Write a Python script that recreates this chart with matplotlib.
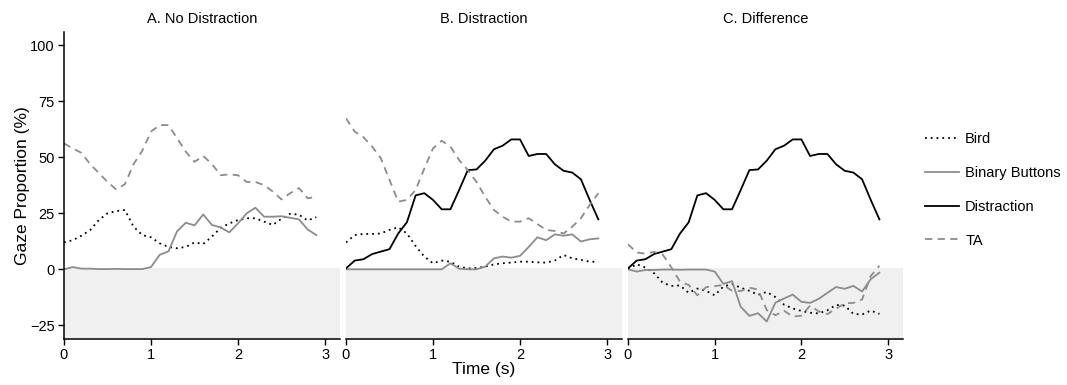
import numpy as np
import matplotlib
matplotlib.use("Agg")
import matplotlib.pyplot as plt

plt.rcParams["font.family"] = ["Liberation Sans", "DejaVu Sans"]

# ── Data (gaze proportion in %, sampled every 0.1 s) ───────────────────────
time_s = [0.0, 0.1, 0.2, 0.3, 0.4, 0.5, 0.6, 0.7, 0.8, 0.9,
          1.0, 1.1, 1.2, 1.3, 1.4, 1.5, 1.6, 1.7, 1.8, 1.9,
          2.0, 2.1, 2.2, 2.3, 2.4, 2.5, 2.6, 2.7, 2.8, 2.9]

# A. No Distraction
bird_a = [12.0, 13.0, 15.0, 17.5, 22.0, 25.0, 26.0, 26.5, 19.0, 15.3,
          14.3, 11.6, 10.0, 9.4, 10.0, 12.0, 11.3, 14.6, 18.5, 20.5,
          22.0, 22.8, 22.8, 21.3, 19.8, 22.6, 24.8, 24.4, 21.8, 23.3]
buttons_a = [0.0, 1.0, 0.3, 0.3, 0.1, 0.1, 0.2, 0.1, 0.1, 0.1,
             1.0, 6.5, 8.0, 17.0, 20.8, 19.6, 24.5, 19.8, 18.7, 16.5,
             20.5, 25.0, 27.5, 23.5, 23.5, 23.7, 23.0, 22.3, 17.8, 15.3]
ta_a = [56.2, 54.0, 52.0, 47.0, 43.0, 39.0, 35.7, 38.0, 47.0, 53.0,
        61.5, 64.4, 64.4, 58.5, 52.5, 48.0, 50.6, 47.0, 42.0, 42.4,
        42.0, 39.0, 39.0, 37.6, 34.7, 31.2, 34.0, 36.3, 31.7, 32.4]

# B. Distraction
bird_b = [12.0, 15.3, 15.8, 15.8, 16.0, 17.6, 18.8, 16.0, 10.4, 5.7,
          2.7, 3.9, 3.4, 1.2, 0.4, 0.6, 1.2, 2.2, 2.7, 3.0,
          3.4, 3.4, 3.1, 3.0, 3.9, 6.4, 4.9, 4.2, 3.4, 3.4]
buttons_b = [0.0, 0.0, 0.0, 0.0, 0.0, 0.0, 0.0, 0.0, 0.0, 0.0,
             0.0, 0.0, 2.7, 0.3, 0.0, 0.0, 1.2, 4.9, 5.7, 5.2,
             6.0, 10.0, 14.3, 13.0, 15.6, 15.0, 15.6, 12.4, 13.4, 13.8]
distraction_b = [0.4, 3.9, 4.5, 6.8, 7.9, 9.0, 16.0, 21.0, 33.0, 34.0,
                 31.0, 26.8, 26.8, 35.4, 44.3, 44.6, 48.5, 53.6, 55.2, 58.0,
                 58.0, 50.6, 51.5, 51.5, 46.9, 44.0, 43.2, 40.2, 31.0, 22.3]
ta_b = [67.4, 61.5, 59.0, 54.8, 49.6, 39.9, 30.2, 31.0, 35.4, 45.0,
        54.0, 57.4, 54.8, 48.8, 44.3, 39.0, 32.4, 26.5, 23.5, 21.3,
        21.3, 22.8, 20.2, 17.6, 17.1, 16.0, 19.0, 22.8, 28.7, 34.0]

# C. Difference (Distraction minus No Distraction)
bird_c = np.array(bird_b) - np.array(bird_a)
buttons_c = np.array(buttons_b) - np.array(buttons_a)
distraction_c = np.array(distraction_b)
ta_c = np.array(ta_b) - np.array(ta_a)

panel_titles = ["A. No Distraction", "B. Distraction", "C. Difference"]
series_names = ["Bird", "Binary Buttons", "Distraction", "TA"]

GRAY = "#8c8c8c"
STYLES = {
    "Bird": dict(color="black", linestyle=(0, (1, 2.2)), linewidth=1.3),
    "Binary Buttons": dict(color=GRAY, linestyle="-", linewidth=1.3),
    "Distraction": dict(color="black", linestyle="-", linewidth=1.3),
    "TA": dict(color=GRAY, linestyle=(0, (4, 3)), linewidth=1.3),
}

panels = [
    {"Bird": bird_a, "Binary Buttons": buttons_a, "TA": ta_a},
    {"Bird": bird_b, "Binary Buttons": buttons_b, "Distraction": distraction_b, "TA": ta_b},
    {"Bird": bird_c, "Binary Buttons": buttons_c, "Distraction": distraction_c, "TA": ta_c},
]

W, H = 1067, 385
fig = plt.figure(figsize=(W / 100, H / 100), dpi=100)

lefts = [64, 346, 628]
widths = [276, 276, 275]
top_px, bottom_px = 31.7, 339.3

axes = []
for i, (left, width) in enumerate(zip(lefts, widths)):
    ax = fig.add_axes([left / W, 1 - bottom_px / H, width / W, (bottom_px - top_px) / H])
    ax.axhspan(-40, 0.7, color="#f0f0f0", zorder=0, linewidth=0)
    for name in series_names:
        if name in panels[i]:
            ax.plot(time_s, panels[i][name], label=name, **STYLES[name])
    ax.set_xlim(0, 3.172)
    ax.set_ylim(-31.25, 106.1)
    ax.set_xticks([0, 1, 2, 3])
    ax.set_title(panel_titles[i], fontsize=10.5, pad=6)
    for side in ["top", "right"]:
        ax.spines[side].set_visible(False)
    ax.spines["bottom"].set_linewidth(1.1)
    ax.spines["left"].set_linewidth(1.1)
    ax.tick_params(length=4, width=1.0, labelsize=10.5, pad=2.5)
    if i == 0:
        ax.set_yticks([-25, 0, 25, 50, 75, 100])
        ax.set_ylabel("Gaze Proportion (%)", fontsize=12.5, labelpad=0.5)
    else:
        ax.spines["left"].set_visible(False)
        ax.set_yticks([])
    if i == 1:
        ax.set_xlabel("Time (s)", fontsize=12.5, labelpad=0)
    axes.append(ax)

handles, labels = axes[1].get_legend_handles_labels()
fig.legend(handles, labels, loc="center left", bbox_to_anchor=(912 / W, 1 - 190 / H),
           frameon=False, fontsize=10.5, handlelength=2.3, labelspacing=1.35,
           handletextpad=0.45)

fig.savefig("out.png", dpi=100)
